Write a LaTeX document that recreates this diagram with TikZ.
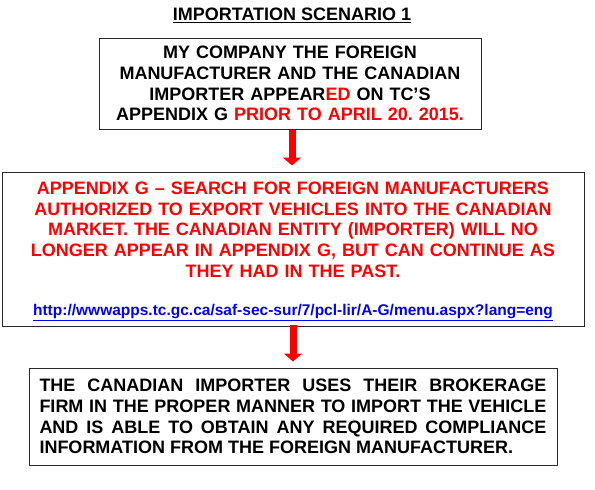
\documentclass[tikz,border=0pt]{standalone}
\usepackage{fontspec}
\setmainfont{Liberation Sans}
\usetikzlibrary{arrows.meta}
\definecolor{boxgray}{RGB}{40,40,40}
\definecolor{linkblue}{RGB}{0,0,255}
\frenchspacing
\tikzset{
  box/.style={draw=boxgray, line width=1pt, inner sep=0pt, font=\bfseries\fontsize{18}{20.7}\selectfont},
  boxtext/.style={inner sep=0pt, font=\bfseries\fontsize{18}{20.7}\selectfont},
  flowarrow/.style={draw=red, line width=7pt, -{Triangle[width=18pt,length=8pt]}, shorten >=6pt},
}
\begin{document}
\begin{tikzpicture}[x=1pt,y=-1pt]
\useasboundingbox (0,0) rectangle (595,490);
\node[font=\bfseries\fontsize{18}{20.7}\selectfont] (title) at (292,15.5) {\underline{IMPORTATION SCENARIO 1}};
\node[box, minimum width=382pt, minimum height=91pt, text width=370pt, align=center] (b1) at (290,83.5)
 {MY COMPANY THE FOREIGN\\ MANUFACTURER AND THE CANADIAN\\ IMPORTER APPEAR\textcolor{red}{ED} ON TC’S\\ APPENDIX G \textcolor{red}{PRIOR TO APRIL 20. 2015.}};
\node[box, minimum width=582pt, minimum height=154pt] (b2) at (293,249) {};
\node[boxtext, text width=570pt, align=center] (b2text) at (293,251.5)
 {\color{red}APPENDIX G – SEARCH FOR FOREIGN MANUFACTURERS\\ AUTHORIZED TO EXPORT VEHICLES INTO THE CANADIAN\\ MARKET. THE CANADIAN ENTITY (IMPORTER) WILL NO\\ LONGER APPEAR IN APPENDIX G, BUT CAN CONTINUE AS\\ THEY HAD IN THE PAST.\\[18pt]
 {\fontsize{15.5}{17}\selectfont\color{linkblue}\underline{http://wwwapps.tc.gc.ca/saf-sec-sur/7/pcl-lir/A-G/menu.aspx?lang=eng}}};
\node[box, minimum width=528pt, minimum height=97pt, text width=507pt, align=justify] (b3) at (293,416.5)
 {THE CANADIAN IMPORTER USES THEIR BROKERAGE\linebreak FIRM IN THE PROPER MANNER TO IMPORT THE VEHICLE\linebreak AND IS ABLE TO OBTAIN ANY REQUIRED COMPLIANCE\linebreak INFORMATION FROM THE FOREIGN MANUFACTURER.};
\draw[flowarrow] ([xshift=2pt]b1.south) -- ([xshift=-1pt]b2.north);
\draw[flowarrow] ([yshift=2pt]b2.south) -- (b3.north);
\end{tikzpicture}
\end{document}
